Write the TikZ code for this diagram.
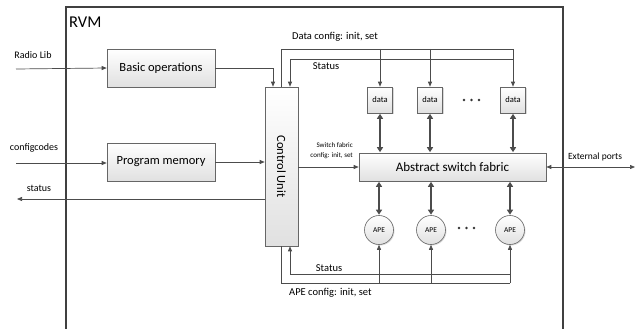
\documentclass[tikz,border=0pt]{standalone}
\usepackage{fontspec}
\setmainfont{Carlito}
\usetikzlibrary{arrows.meta,shadows}
\begin{document}
\begin{tikzpicture}[x=1pt,y=-1pt,
  line/.style={draw=black!70, line width=0.7pt},
  arr/.style={line, -{Triangle[length=5pt,width=4pt]}},
  darr/.style={line, {Triangle[length=5pt,width=4pt]}-{Triangle[length=5pt,width=4pt]}},
  thick2/.style={draw=black!70, line width=1.8pt, {Triangle[length=5pt,width=6pt]}-{Triangle[length=5pt,width=6pt]}, shorten <=0.5pt, shorten >=0.5pt},
  blk/.style={draw=black!60, line width=0.6pt, top color=white, bottom color=black!12,
    drop shadow={shadow xshift=1pt,shadow yshift=-1pt,opacity=0.3}, inner sep=0pt},
  lbl/.style={inner sep=0pt, font=\fontsize{10}{12}\selectfont},
  dot/.style={circle, fill=black!80, inner sep=0pt, minimum size=2.6pt},
]
\useasboundingbox (0,0) rectangle (635,329);
% RVM outer frame (open at bottom)
\draw[draw=black!75, line width=1.5pt] (66,329) -- (66,7) -- (563,7) -- (563,329);
\node[anchor=west, inner sep=0pt, font=\fontsize{16.5}{18}\selectfont] (rvm) at (69,22) {RVM};

% blocks
\node[blk, minimum width=108pt, minimum height=38pt, font=\fontsize{12.5}{14}\selectfont] (bo) at (161,68) {Basic operations};
\node[blk, minimum width=108pt, minimum height=38pt, font=\fontsize{12.5}{14}\selectfont] (pm) at (161,162) {Program memory};
\node[blk, minimum width=33pt, minimum height=159pt] (cu) at (281.5,166.5) {};
\node[rotate=-90, inner sep=0pt, font=\fontsize{12.5}{14}\selectfont] (cut) at (cu.center) {Control Unit};
\node[blk, minimum width=187pt, minimum height=28pt, font=\fontsize{13}{15}\selectfont] (sf) at (452.5,167) {Abstract switch fabric};

\foreach \n/\x in {d1/380, d2/430, d3/513}
  \node[blk, minimum width=25pt, minimum height=26pt, font=\fontsize{8.5}{10}\selectfont] (\n) at (\x,100) {data};
\foreach \n/\x in {a1/379, a2/431, a3/510}
  \node[blk, circle, minimum size=29pt, font=\fontsize{7.5}{9}\selectfont] (\n) at (\x,230) {APE};

\foreach \x [count=\i] in {464,471.5,479}
  \node[dot] (dt\i) at (\x,100) {};
\foreach \x [count=\i] in {459,466.5,474}
  \node[dot] (db\i) at (\x,228) {};

% external inputs / outputs
\coordinate (rin) at (16,69);
\coordinate (cin) at (16,163);
\coordinate (sout) at (17,199);
\coordinate (ext) at (635,167);
\node[lbl] (lrl) at (33,55) {Radio Lib};
\node[lbl] (lcc) at (34,148) {configcodes};
\node[lbl] (lst) at (39,188) {status};
\draw[arr] (rin) -- (bo.west);
\draw[arr] (cin) -- (cin -| pm.west);
\draw[arr] (sout -| cu.west) -- (sout);

\draw[arr] (bo.east) -| ([xshift=-8.5pt]cu.north);
\draw[arr] (pm.east) -- (pm.east -| cu.west);

% top data config / status
\coordinate (dtop) at (513,49);
\coordinate (stop) at (513,59);
\draw[line] (cu.north) |- (dtop);
\foreach \n in {d1,d2,d3}
  \draw[arr] (\n.north |- dtop) -- (\n.north);
\draw[arr] (stop) -| ([xshift=8.5pt]cu.north);
\node[anchor=west, lbl, font=\fontsize{10.5}{12}\selectfont] (ldc) at (292,37) {Data config: init, set};
\node[lbl, font=\fontsize{10.5}{12}\selectfont] (lst2) at (326,66) {Status};

% data <-> fabric
\foreach \n in {d1,d2,d3}
  \draw[thick2] (\n.south) -- (\n.south |- sf.north);
% fabric <-> APE
\foreach \n in {a1,a2,a3}
  \draw[thick2] (\n.north |- sf.south) -- (\n.north);

% switch fabric config
\draw[arr] (cu.east |- sf.west) -- (sf.west);
\node[anchor=east, align=right, inner sep=0pt, font=\fontsize{7}{10}\selectfont] (lsf) at (353,151) {Switch fabric\\config: init, set};

% external ports
\draw[darr] (sf.east) -- (ext);
\node[lbl, font=\fontsize{9.5}{11}\selectfont] (lep) at (595,157) {External ports};

% bottom status / APE config
\coordinate (sbot) at (510,274);
\coordinate (abot) at (510,283);
\draw[arr] (sbot) -| ([xshift=8.5pt]cu.south);
\draw[line] (cu.south) |- (abot);
\foreach \n in {a1,a2,a3}
  \draw[arr] (\n.south |- abot) -- (\n.south);
\node[lbl, font=\fontsize{10.5}{12}\selectfont] (lsb) at (329,268) {Status};
\node[anchor=west, lbl, font=\fontsize{10.5}{12}\selectfont] (lac) at (289,293) {APE config: init, set};
\end{tikzpicture}
\end{document}
